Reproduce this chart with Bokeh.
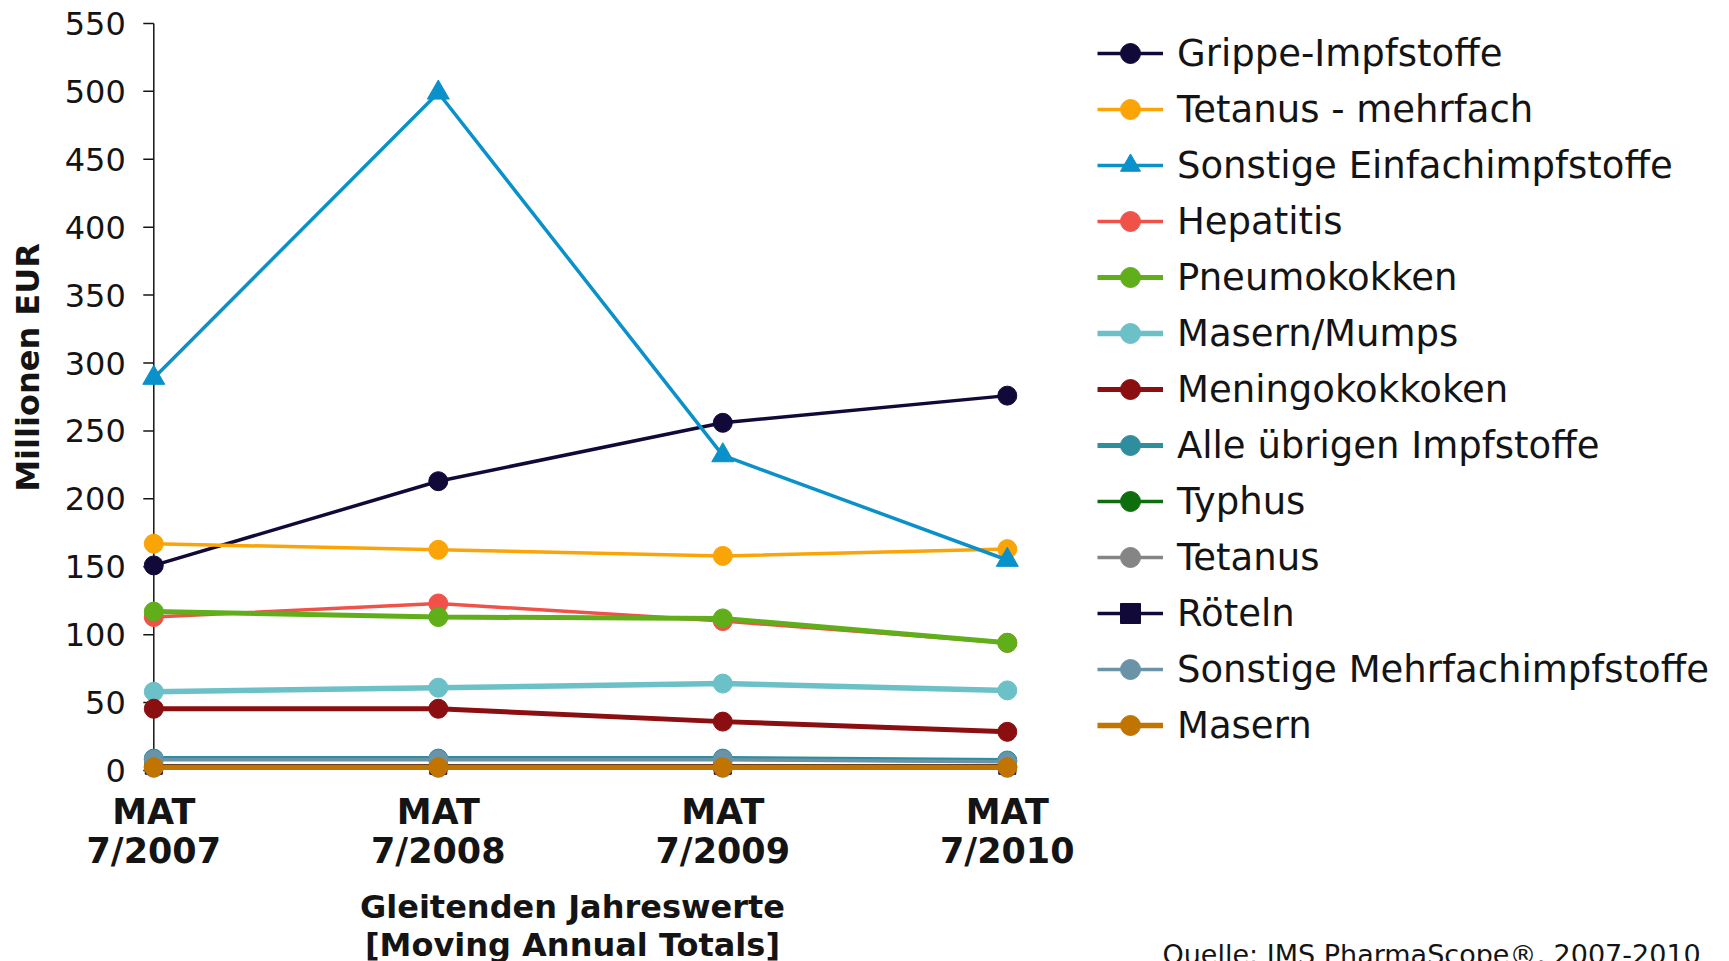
from bokeh.plotting import figure
from bokeh.models import Legend, LegendItem, Label, Range1d
from bokeh.embed import file_html
from bokeh.resources import INLINE

# ---- data ----
categories = ["MAT\n7/2007", "MAT\n7/2008", "MAT\n7/2009", "MAT\n7/2010"]
x_idx = [0, 1, 2, 3]
y_ticks = [0, 50, 100, 150, 200, 250, 300, 350, 400, 450, 500, 550]

series_names = [
    "Grippe-Impfstoffe", "Tetanus - mehrfach", "Sonstige Einfachimpfstoffe",
    "Hepatitis", "Pneumokokken", "Masern/Mumps", "Meningokokkoken",
    "Alle übrigen Impfstoffe", "Typhus", "Tetanus", "Röteln",
    "Sonstige Mehrfachimpfstoffe", "Masern",
]
grippe = [151, 213, 256, 276]
tetanus_mehrfach = [167, 162.5, 158, 163]
sonstige_einfach = [289, 499, 232, 155]
hepatitis = [113, 123, 110, 94]
pneumokokken = [117, 113, 112, 94]
masern_mumps = [58, 61, 64, 59]
meningokokken = [45.5, 45.5, 36, 28.5]
alle_uebrigen = [8.8, 8.8, 8.8, 7.4]
typhus = [3, 3, 3, 3]
tetanus = [2, 2, 2, 2]
roeteln = [3.5, 3.5, 3.5, 3.5]
sonstige_mehrfach = [8, 8, 8, 6.5]
masern = [2.4, 2.4, 2.4, 2.4]

series_values = [grippe, tetanus_mehrfach, sonstige_einfach, hepatitis, pneumokokken,
                 masern_mumps, meningokokken, alle_uebrigen, typhus, tetanus, roeteln,
                 sonstige_mehrfach, masern]
colors = ["#110a38", "#fba408", "#0b91c9", "#f0524a", "#5fae1a", "#6cc0c8", "#8b0e10",
          "#2e8e9e", "#0e6e0e", "#858585", "#110a38", "#6a93a8", "#c17400"]
markers = ["circle", "circle", "triangle", "circle", "circle", "circle", "circle",
           "circle", "circle", "circle", "square", "circle", "circle"]
widths = [3.5, 3.5, 3.5, 3.5, 5, 5.5, 5, 5, 3.5, 3.5, 3.5, 3.5, 5.5]

TXT = "#141414"
FONT = "DejaVu Sans"

p = figure(frame_width=1729, frame_height=961,
           x_range=Range1d(-0.5388, 5.5385), y_range=Range1d(-140.6, 566.9),
           output_backend="svg", toolbar_location=None,
           x_axis_location=None, y_axis_location=None,
           min_border_left=0, min_border_top=0, min_border_bottom=0, min_border_right=0)
p.outline_line_color = None
p.grid.visible = False
p.background_fill_color = "white"
p.border_fill_color = "white"

x0 = x_idx[0]
n_t = len(y_ticks)

# y axis: line, ticks and tick labels
p.segment(x0=[x0], y0=[y_ticks[0]], x1=[x0], y1=[y_ticks[-1]],
          line_color=TXT, line_width=1.5)
p.ray(x=[x0] * n_t, y=y_ticks, length=10.5, length_units="screen",
      angle=180, angle_units="deg", line_color=TXT, line_width=1.5)
p.text(x=[x0] * n_t, y=y_ticks, text=[str(t) for t in y_ticks], x_offset=-28,
       text_align="right", text_baseline="middle",
       text_font={"value": FONT}, text_font_size={"value": "32px"}, text_color=TXT)

p.add_layout(Label(x=27.6, y=594, x_units="screen", y_units="screen",
                   text="Millionen EUR", angle=90, angle_units="deg",
                   text_align="center", text_baseline="middle",
                   text_font=FONT, text_font_style="bold", text_font_size="32px",
                   text_color=TXT))

# x tick labels (two lines)
top_line = [c.split("\n")[0] for c in categories]
bottom_line = [c.split("\n")[1] for c in categories]
for txt, off in [(top_line, 41), (bottom_line, 80)]:
    p.text(x=x_idx, y=[y_ticks[0]] * len(x_idx), text=txt, y_offset=off,
           text_align="center", text_baseline="alphabetic",
           text_font={"value": FONT}, text_font_style="bold",
           text_font_size={"value": "35px"}, text_color=TXT)

items = []
for name, vals, col, mk, lw in zip(series_names, series_values, colors, markers, widths):
    lr = p.line(x_idx, vals, line_color=col, line_width=lw)
    sz = 22 if mk == "triangle" else (17 if mk == "square" else 19)
    sr = p.scatter(x_idx, vals, marker=mk, size=sz, fill_color=col, line_color=col)
    items.append(LegendItem(label=name, renderers=[lr, sr]))

legend = Legend(items=items, location=(1097, 211), margin=0, padding=0, spacing=6,
                glyph_width=66, glyph_height=50, label_height=50, label_standoff=14,
                label_text_font=FONT, label_text_font_size="37px", label_text_color=TXT,
                border_line_color=None, background_fill_alpha=0)
p.add_layout(legend)

for txt, yv in [("Gleitenden Jahreswerte", 55), ("[Moving Annual Totals]", 17)]:
    p.add_layout(Label(x=572, y=yv, x_units="screen", y_units="screen", text=txt,
                       text_align="center", text_baseline="alphabetic",
                       text_font=FONT, text_font_style="bold", text_font_size="32px",
                       text_color=TXT))

p.add_layout(Label(x=1162, y=7.5, x_units="screen", y_units="screen",
                   text="Quelle: IMS PharmaScope®, 2007-2010",
                   text_align="left", text_baseline="alphabetic",
                   text_font=FONT, text_font_size="27px", text_color=TXT))

open("out.html", "w").write(file_html(p, INLINE))
